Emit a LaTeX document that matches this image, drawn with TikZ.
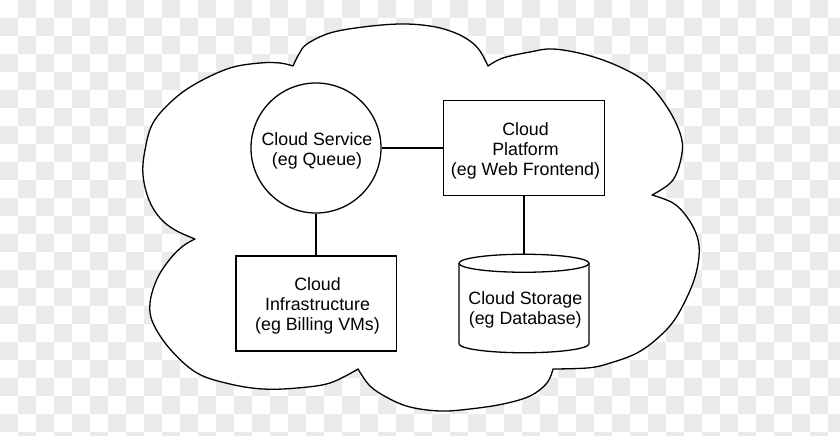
\documentclass[tikz,border=0pt]{standalone}
\usepackage{fontspec}
\setmainfont{Liberation Sans}
\definecolor{checker}{RGB}{235,235,235}
\begin{document}
\begin{tikzpicture}[x=1pt,y=-1pt,
  outline/.style={draw=black, line width=1.3pt, fill=white},
  boxnode/.style={outline, rectangle, inner sep=0pt},
  circnode/.style={outline, circle, inner sep=0pt},
  conn/.style={draw=black, line width=1.4pt},
  txt/.style={align=center, inner sep=0pt, font=\fontsize{17.8}{20}\selectfont}]
\useasboundingbox (0,0) rectangle (840,436);
\clip (0,0) rectangle (840,436);
\fill[white] (0,0) rectangle (840,436);
% checkerboard background
\foreach \j in {0,2,...,24} {
  \foreach \i in {1,3,...,47} {
    \fill[checker] (18*\i,18*\j) rectangle ++(18,18);
  }
}
\foreach \j in {1,3,...,23} {
  \foreach \i in {0,2,...,46} {
    \fill[checker] (18*\i,18*\j) rectangle ++(18,18);
  }
}
% cloud
\draw[outline, line join=round]
  plot[smooth, tension=0.6] coordinates {(293,66) (299,54) (307,44) (330,33) (363,27) (400,24) (430,26) (453,32) (470,41) (480,51) (488,66)}
  -- plot[smooth, tension=0.6] coordinates {(488,66) (503,58) (530,52) (553,49) (587,55) (620,67) (647,83) (667,107) (680,133) (682,153) (673,180) (652,195)}
  -- plot[smooth, tension=0.6] coordinates {(652,195) (673,203) (687,217) (697,236) (699,256) (693,283) (677,316) (660,336) (637,353) (607,364) (587,368) (553,369)}
  -- plot[smooth, tension=0.6] coordinates {(553,369) (547,383) (530,396) (503,404) (470,409) (440,411) (410,407) (388,398) (370,386) (358,369)}
  -- plot[smooth, tension=0.6] coordinates {(358,369) (330,383) (297,388) (263,389) (230,384) (197,373) (170,349) (153,323) (150,303) (157,279) (170,259) (183,246) (195,239)}
  -- plot[smooth, tension=0.6] coordinates {(195,239) (175,230) (160,218) (149,200) (143,175) (145,150) (153,123) (173,100) (197,83) (230,68) (260,63) (280,63) (293,66)}
  -- cycle;
% shapes
\node[circnode, minimum size=130pt] (service) at (316,148) {};
\node[boxnode, minimum width=160.5pt, minimum height=95pt] (platform) at (524,148) {};
\node[boxnode, minimum width=160.3pt, minimum height=95pt] (infra) at (316,303.5) {};
\node[inner sep=0pt, minimum width=130pt, minimum height=98.5pt] (storage) at (524,303.5) {};
% cylinder
\fill[white] (459,263.25) -- (459,343.75) arc[start angle=180, end angle=0, x radius=65, y radius=9] -- (589,263.25) -- cycle;
\draw[line width=1.3pt] (459,263.25) -- (459,343.75) arc[start angle=180, end angle=0, x radius=65, y radius=9] -- (589,263.25);
\draw[outline] (524,263.25) ellipse[x radius=65, y radius=9];
% connectors
\draw[conn] (service) -- (platform);
\draw[conn] (service) -- (infra);
\draw[conn] (platform) -- (storage);
% texts
\node[txt] (serviceText) at (317,151) {Cloud Service\\(eg Queue)};
\node[txt] (platformText) at (525.5,150.5) {Cloud\\Platform\\(eg Web Frontend)};
\node[txt] (infraText) at (317.5,305.5) {Cloud\\Infrastructure\\(eg Billing VMs)};
\node[txt] (storageText) at (525.3,309.8) {Cloud Storage\\(eg Database)};
\end{tikzpicture}
\end{document}
